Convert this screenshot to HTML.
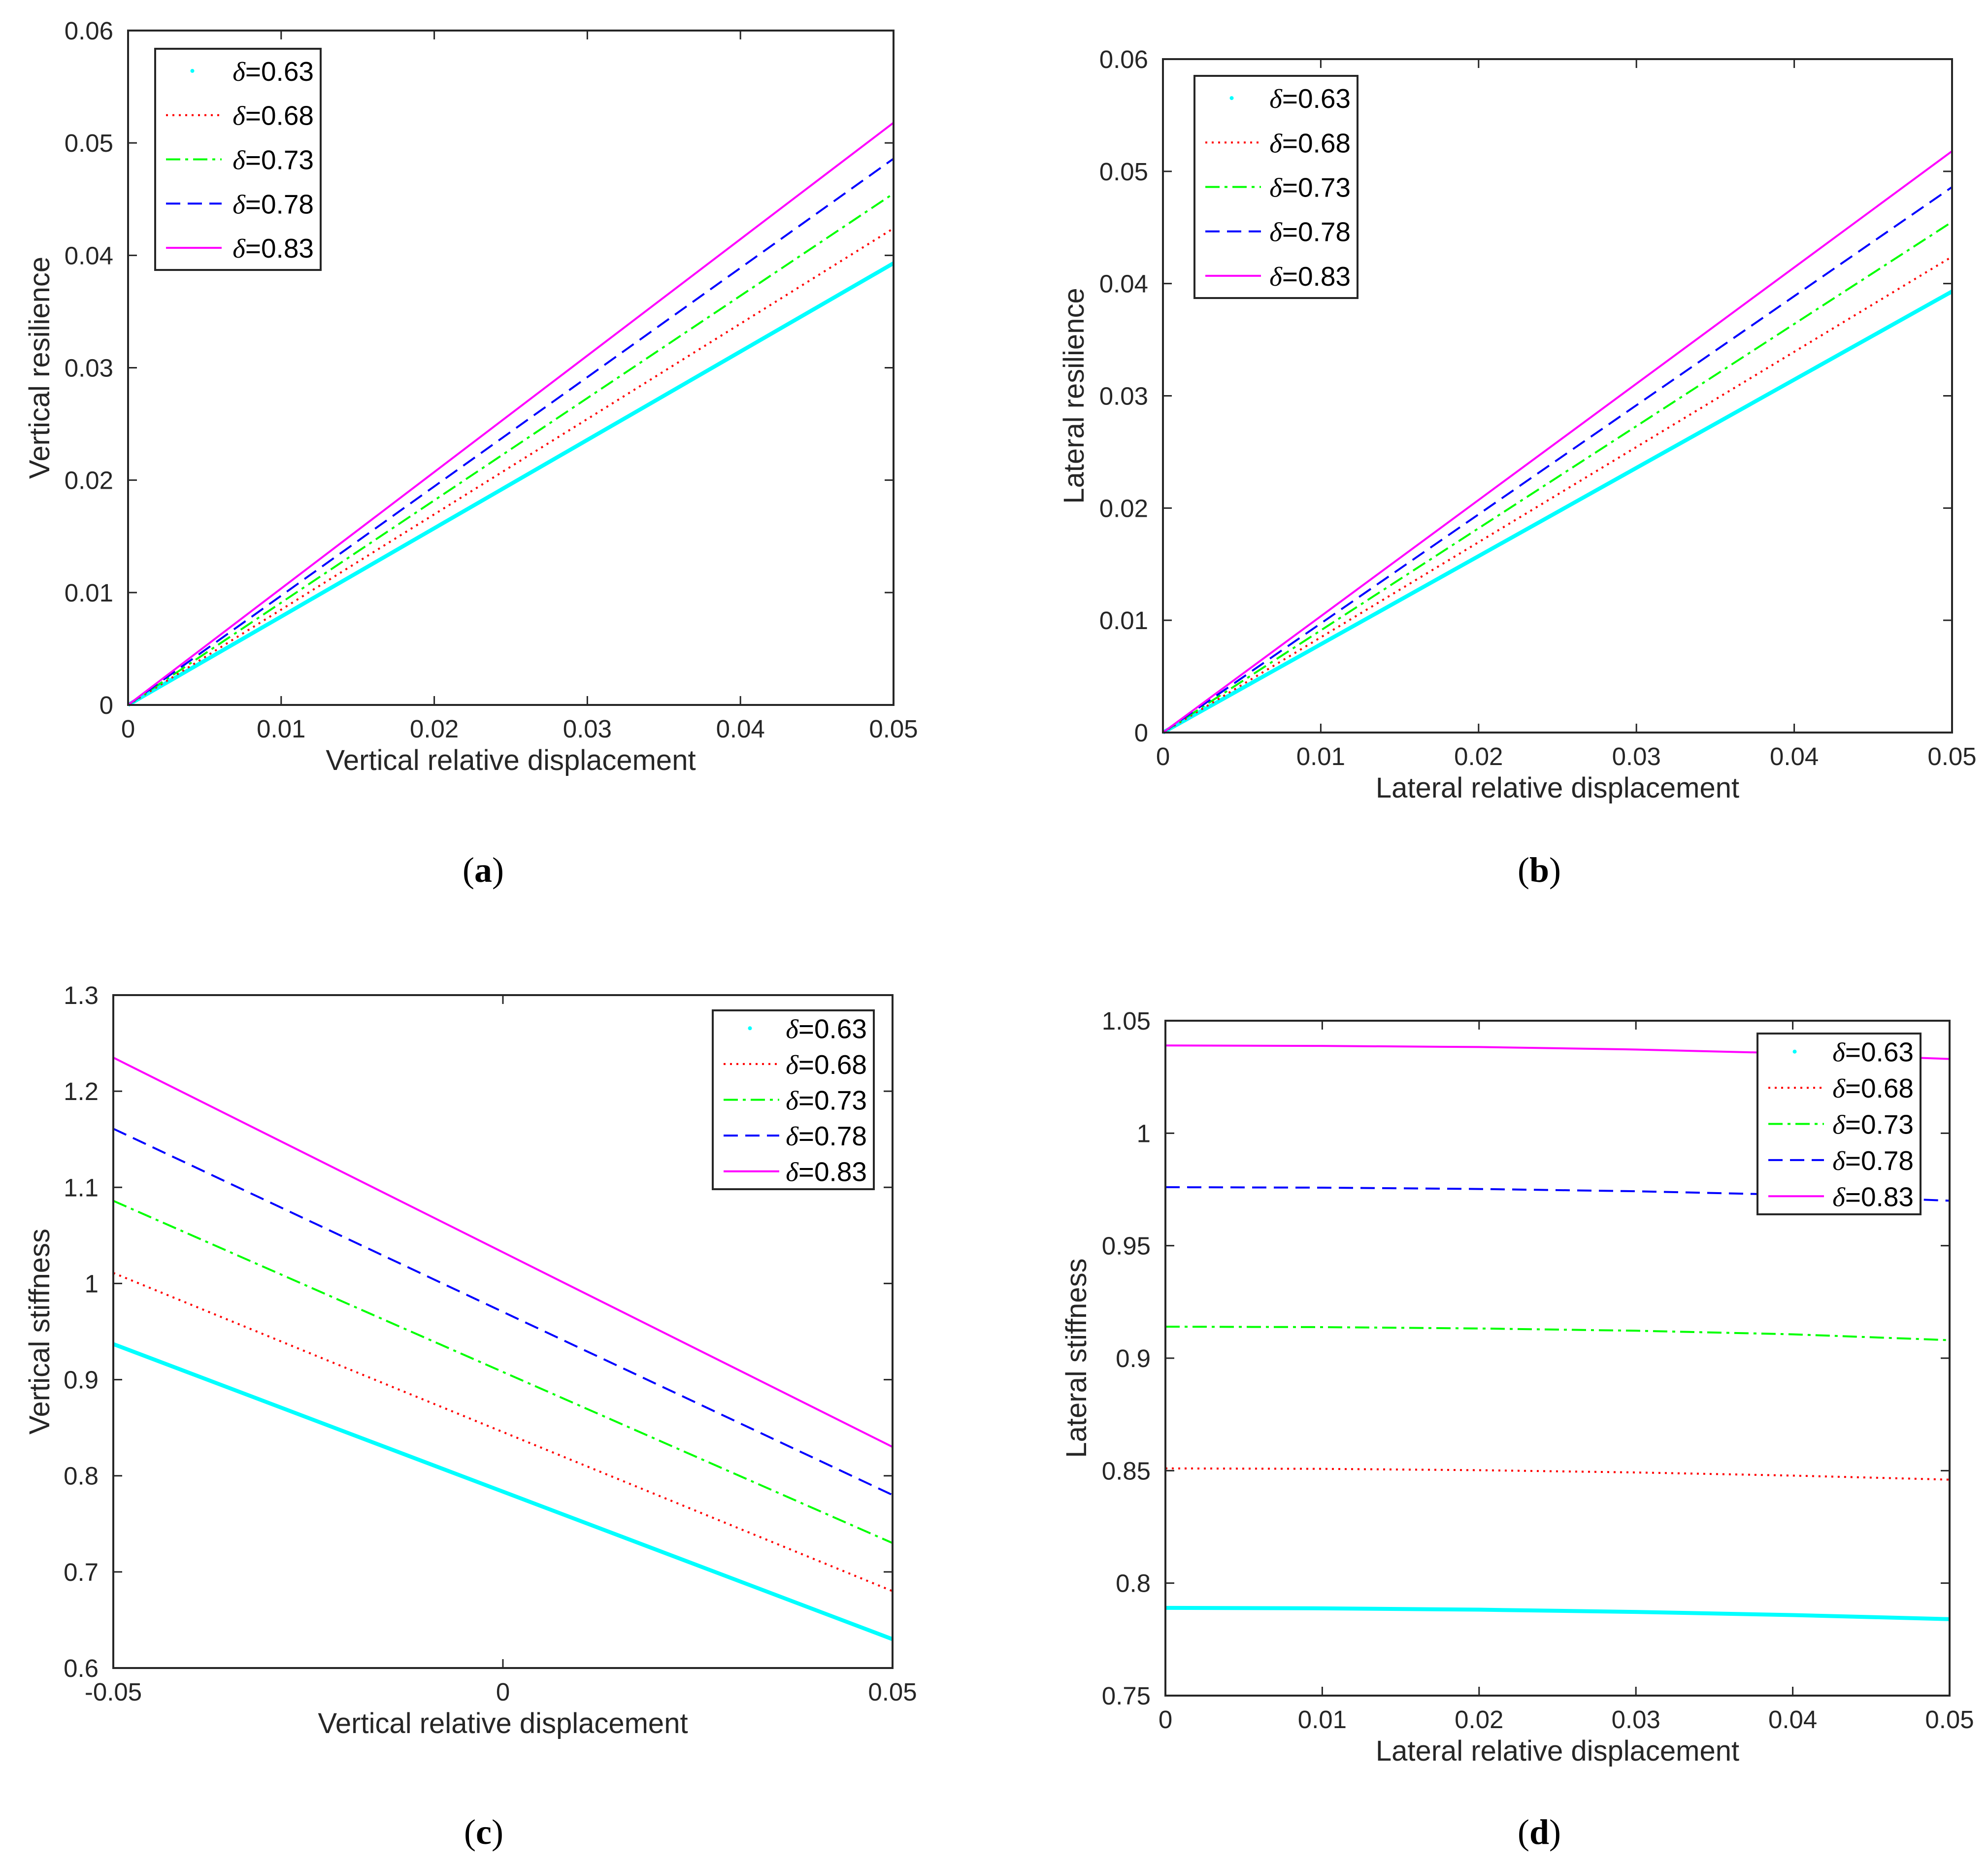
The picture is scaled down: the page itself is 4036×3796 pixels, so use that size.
<!DOCTYPE html>
<html><head><meta charset="utf-8"><style>
html,body{margin:0;padding:0;background:#fff;}
svg{display:block;font-family:"Liberation Sans",Arial,sans-serif;}
</style></head><body>
<svg id="fig" width="4036" height="3796" viewBox="0 0 4036 3796" xmlns="http://www.w3.org/2000/svg"></svg>
<script>
const seriesNames = ["δ=0.63","δ=0.68","δ=0.73","δ=0.78","δ=0.83"];
const xA = [0,0.01,0.02,0.03,0.04,0.05];
const aC = [0,0.00786,0.01572,0.02358,0.03144,0.0393];
const aR = [0,0.00848,0.01696,0.02544,0.03392,0.0424];
const aG = [0,0.0091,0.0182,0.0273,0.0364,0.0455];
const aB = [0,0.00972,0.01944,0.02916,0.03888,0.0486];
const aM = [0,0.01036,0.02072,0.03108,0.04144,0.0518];
const bC = [0,0.00786,0.01572,0.02358,0.03144,0.0393];
const bR = [0,0.00848,0.01696,0.02544,0.03392,0.0424];
const bG = [0,0.0091,0.0182,0.0273,0.0364,0.0455];
const bB = [0,0.00972,0.01944,0.02916,0.03888,0.0486];
const bM = [0,0.01036,0.02072,0.03108,0.04144,0.0518];
const xC = [-0.05,0,0.05];
const cC = [0.937,0.7835,0.630];
const cR = [1.011,0.8455,0.680];
const cG = [1.086,0.908,0.730];
const cB = [1.161,0.9705,0.780];
const cM = [1.235,1.0325,0.830];
const xD = [0,0.01,0.02,0.03,0.04,0.05];
const dC = [0.789,0.7888,0.7882,0.7872,0.7858,0.784];
const dR = [0.851,0.8508,0.8502,0.8492,0.8478,0.846];
const dG = [0.914,0.9138,0.9132,0.9122,0.9106,0.908];
const dB = [0.976,0.9758,0.9752,0.9742,0.9726,0.970];
const dM = [1.039,1.0388,1.0383,1.0372,1.0355,1.033];
const tickA = ["0","0.01","0.02","0.03","0.04","0.05","0.06"];
const tickXA = ["0","0.01","0.02","0.03","0.04","0.05"];
const tickYC = ["0.6","0.7","0.8","0.9","1","1.1","1.2","1.3"];
const tickXC = ["-0.05","0","0.05"];
const tickYD = ["0.75","0.8","0.85","0.9","0.95","1","1.05"];

const NS="http://www.w3.org/2000/svg";
const svg=document.getElementById('fig');
function mk(tag,attrs,parent){const e=document.createElementNS(NS,tag);for(const k in attrs)e.setAttribute(k,attrs[k]);(parent||svg).appendChild(e);return e;}
const styles=[
 {stroke:"#00ffff",w:8,dash:null},
 {stroke:"#ff0000",w:4,dash:"4 9"},
 {stroke:"#00ff00",w:4,dash:"29 10 6 10"},
 {stroke:"#0000ff",w:4,dash:"29 15"},
 {stroke:"#ff00ff",w:4,dash:null}];
const ink="#262626";

function panel(o){
 const g=mk('g',{});
 
 
 const X=v=>o.L+(v-o.x0)/(o.x1-o.x0)*(o.R-o.L);
 const Y=v=>o.B-(v-o.y0)/(o.y1-o.y0)*(o.B-o.T);
 o.ys.forEach((arr,i)=>{
  const s=styles[i];
  const p=mk('polyline',{points:arr.map((v,j)=>X(o.xs[j])+","+Y(v)).join(" "),fill:"none",stroke:s.stroke,"stroke-width":s.w},g);
  if(s.dash)p.setAttribute('stroke-dasharray',s.dash);
  
  
 });
 const box=mk('rect',{x:o.L,y:o.T,width:o.R-o.L,height:o.B-o.T,fill:"none",stroke:ink,"stroke-width":4},g);
 
 
 o.xt.forEach(t=>{const v=parseFloat(t),x=X(v);
  mk('line',{x1:x,y1:o.B,x2:x,y2:o.B-18,stroke:ink,"stroke-width":3},g);
  mk('line',{x1:x,y1:o.T,x2:x,y2:o.T+18,stroke:ink,"stroke-width":3},g);
  const tx=mk('text',{x:x,y:o.B+66,"font-size":51,fill:ink,"text-anchor":"middle"},g);tx.textContent=t;
  
  
 });
 o.yt.forEach(t=>{const v=parseFloat(t),y=Y(v);
  mk('line',{x1:o.L,y1:y,x2:o.L+18,y2:y,stroke:ink,"stroke-width":3},g);
  mk('line',{x1:o.R,y1:y,x2:o.R-18,y2:y,stroke:ink,"stroke-width":3},g);
  const tx=mk('text',{x:o.L-30,y:y+18,"font-size":51,fill:ink,"text-anchor":"end"},g);tx.textContent=t;
  
  
 });
 const xl=mk('text',{x:(o.L+o.R)/2,y:o.B+132,"font-size":58,fill:ink,"text-anchor":"middle"},g);xl.textContent=o.xlab;
 
 
 const yl=mk('text',{x:0,y:0,"font-size":58,fill:ink,"text-anchor":"middle",transform:`translate(${o.ylx},${(o.T+o.B)/2}) rotate(-90)`,"xml:space":"preserve"},g);yl.textContent=o.ylab;
 
 
 const lg=mk('g',{},g);
 
 
 mk('rect',{x:o.lg[0],y:o.lg[1],width:o.lg[2]-o.lg[0],height:o.lg[3]-o.lg[1],fill:"#fff",stroke:ink,"stroke-width":4},lg);
 const step=(o.lg[3]-o.lg[1])/5;
 seriesNames.forEach((n,i)=>{
  const cy=o.lg[1]+step*(i+0.5);
  const sx=o.lg[0]+22, ex=o.lg[0]+135;
  if(i===0){mk('circle',{cx:(sx+ex)/2-3,cy:cy,r:4,fill:"#00ffff"},lg);}
  else{const s=styles[i];const l=mk('line',{x1:sx,y1:cy,x2:ex,y2:cy,stroke:s.stroke,"stroke-width":4},lg);if(s.dash)l.setAttribute('stroke-dasharray',s.dash);}
  const t=mk('text',{x:o.lg[2]-14,y:cy+20,"font-size":55,fill:"#000","text-anchor":"end"},lg);
  t.innerHTML='<tspan font-family="Liberation Serif,serif" font-style="italic">δ</tspan>'+n.slice(1);
  
  
 });
 const cap=mk('text',{x:o.cap[0],y:o.cap[1],"font-size":72,fill:"#000","text-anchor":"middle","font-family":"Liberation Serif,serif"},g);
 cap.innerHTML='(<tspan font-weight="bold">'+o.capt+'</tspan>)';
 
 
}
panel({name:'panel-a',L:260,R:1814,T:62,B:1431,x0:0,x1:0.05,y0:0,y1:0.06,xs:xA,ys:[aC,aR,aG,aB,aM],xt:tickXA,yt:tickA,
 xlab:"Vertical relative displacement",ylab:"Vertical resilience",ylx:100,lg:[315,99,651,548],cap:[981,1790],capt:"a"});
panel({name:'panel-b',L:2361,R:3963,T:120,B:1487,x0:0,x1:0.05,y0:0,y1:0.06,xs:xA,ys:[bC,bR,bG,bB,bM],xt:tickXA,yt:tickA,
 xlab:"Lateral relative displacement",ylab:"Lateral  resilience",ylx:2200,lg:[2425,154,2756,605],cap:[3125,1790],capt:"b"});
panel({name:'panel-c',L:230,R:1812,T:2020,B:3386,x0:-0.05,x1:0.05,y0:0.6,y1:1.3,xs:xC,ys:[cC,cR,cG,cB,cM],xt:tickXC,yt:tickYC,
 xlab:"Vertical relative displacement",ylab:"Vertical stiffness",ylx:100,lg:[1447,2051,1774,2414],cap:[982,3743],capt:"c"});
panel({name:'panel-d',L:2366,R:3958,T:2072,B:3442,x0:0,x1:0.05,y0:0.75,y1:1.05,xs:xD,ys:[dC,dR,dG,dB,dM],xt:tickXA,yt:tickYD,
 xlab:"Lateral relative displacement",ylab:"Lateral stiffness",ylx:2205,lg:[3568,2098,3899,2465],cap:[3125,3743],capt:"d"});
</script>
</body></html>
